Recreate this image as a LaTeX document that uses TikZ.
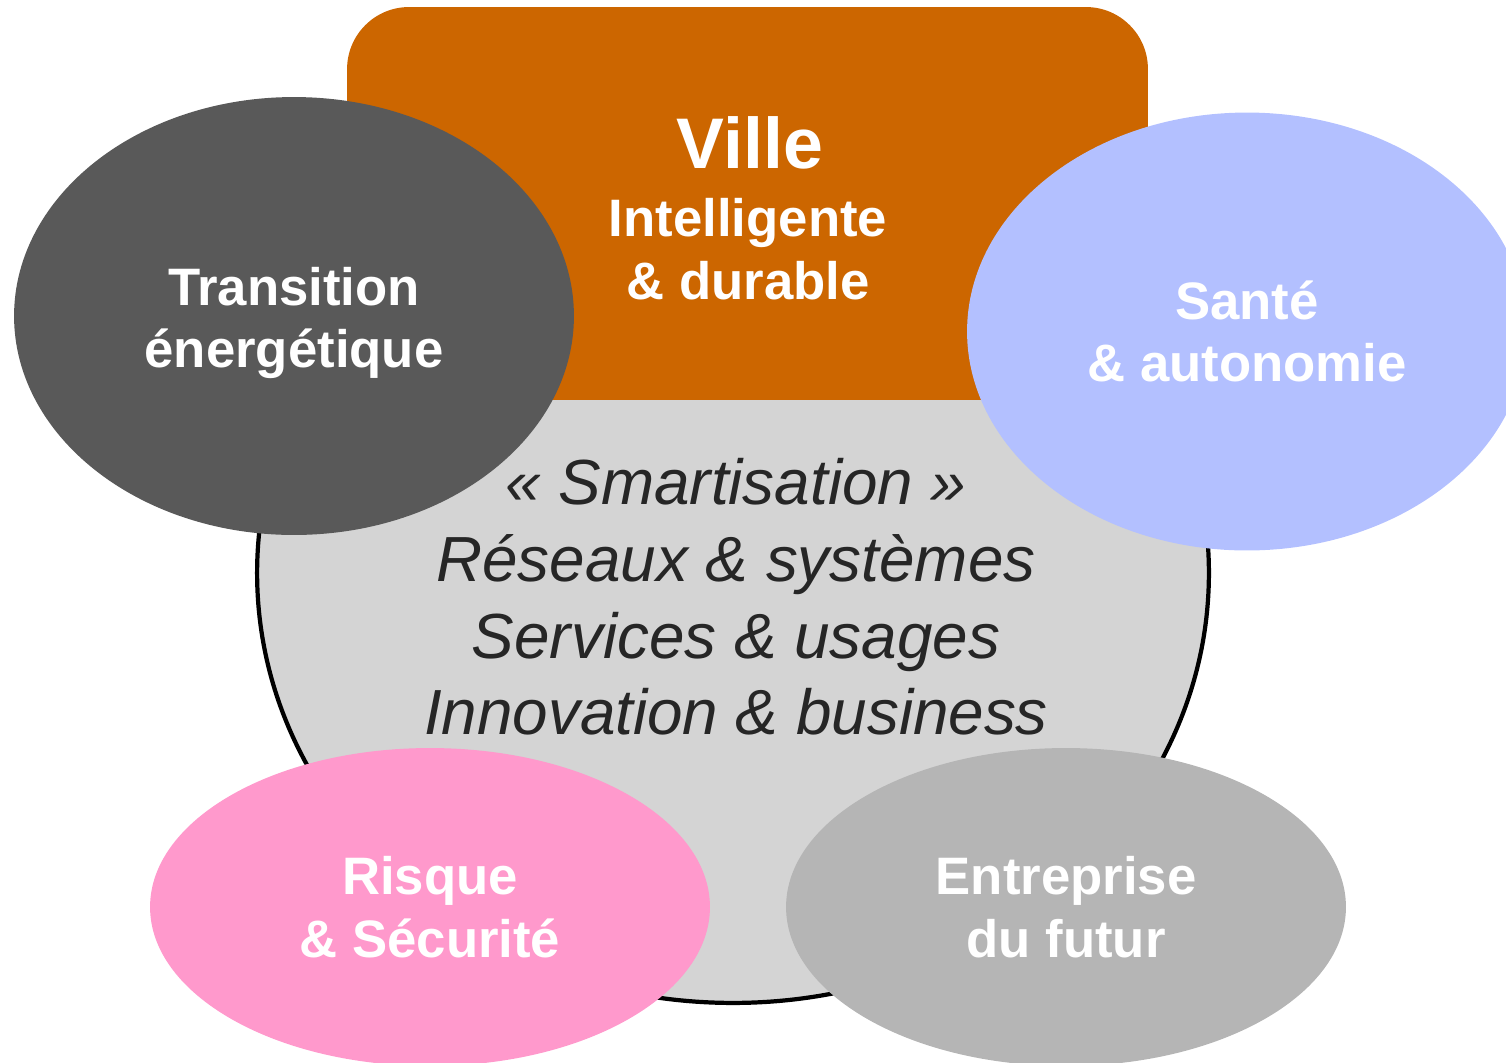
\documentclass[tikz,border=0pt]{standalone}
\usepackage{fontspec}
\setmainfont{Liberation Sans}
\usetikzlibrary{shapes.geometric, positioning}

\definecolor{orangeville}{HTML}{CC6600}
\definecolor{grisfonce}{HTML}{595959}
\definecolor{bleusante}{HTML}{B3C0FF}
\definecolor{roserisque}{HTML}{FF99CC}
\definecolor{grisfutur}{HTML}{B5B5B5}
\definecolor{griscentre}{HTML}{D4D4D4}
\definecolor{textecentre}{HTML}{262626}

\begin{document}
\begin{tikzpicture}[x=0.02cm, y=-0.02cm,
  blanc/.style={text=white, align=center, inner sep=0pt, font=\fontsize{30}{35.7}\selectfont\bfseries},
  pole/.style={ellipse, blanc, minimum width=11.2cm, minimum height=8.76cm},
  polebas/.style={pole, minimum height=6.36cm}]
\useasboundingbox (0,0) rectangle (1506,1062);

\node[ellipse, draw, line width=2.4pt, fill=griscentre, inner sep=0pt,
      minimum width=19.04cm, minimum height=17.2cm] (centre) at (733,573) {};
\node[rectangle, rounded corners=1.24cm, fill=orangeville, inner sep=0pt,
      minimum width=16.02cm, minimum height=7.86cm] (ville) at (747.5,203.5) {};

\node[blanc, font=\fontsize{40.8}{40.8}\selectfont\bfseries] (villeT) at (750,143) {Ville};
\node[blanc] (villeS) at (748,249.5) {Intelligente\\\& durable};

\node[text=textecentre, align=center, inner sep=0pt,
      font=\fontsize{36.3}{43.65}\selectfont\itshape] (themes) at (736,597)
  {« Smartisation »\\Réseaux \& systèmes\\Services \& usages\\Innovation \& business};

\node[pole, fill=grisfonce] (transition) at (294,316) {};
\node[blanc] (transitionT) at (294,323) {Transition\\énergétique};
\node[pole, fill=bleusante] (sante) at (1247,331.5) {Santé\\\& autonomie};
\node[polebas, fill=roserisque] (risque) at (430,907) {Risque\\\& Sécurité};
\node[polebas, fill=grisfutur] (futur) at (1066,907) {Entreprise\\du futur};

\end{tikzpicture}
\end{document}
